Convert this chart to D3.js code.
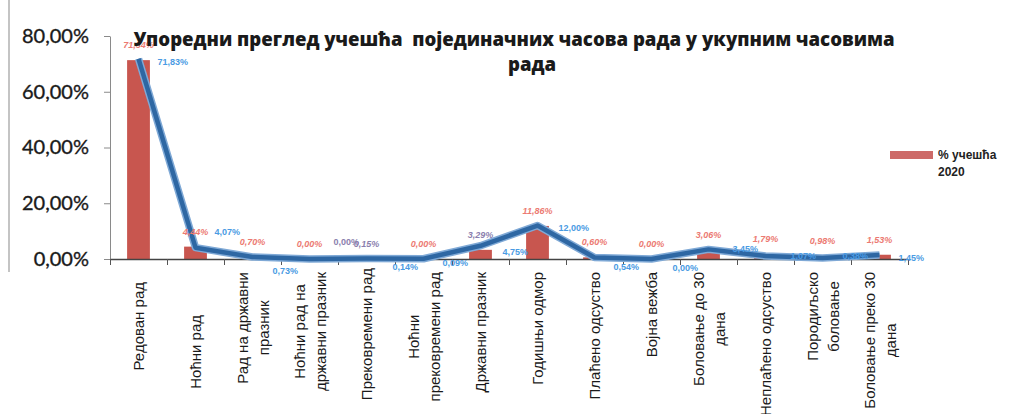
<!DOCTYPE html>
<html><head><meta charset="utf-8">
<script src="https://cdn.jsdelivr.net/npm/d3@7"></script>
<style>body{margin:0;background:#fff} svg{display:block}</style>
</head><body><svg id="c" width="1015" height="414"></svg>
<script>
// ---- data ----
const categories = [
  ["Редован рад"],
  ["Ноћни рад"],
  ["Рад на државни", "празник"],
  ["Ноћни рад на", "државни празник"],
  ["Прековремени рад"],
  ["Ноћни", "прековремени рад"],
  ["Државни празник"],
  ["Годишњи одмор"],
  ["Плаћено одсуство"],
  ["Војна вежба"],
  ["Боловање до 30", "дана"],
  ["Неплаћено одсуство"],
  ["Породиљско", "боловање"],
  ["Боловање преко 30", "дана"]
];
const share2020 = [71.34, 4.44, 0.70, 0.00, 0.15, 0.00, 3.29, 11.86, 0.60, 0.00, 3.06, 1.79, 0.98, 1.53];
const shareLine = [71.83, 4.07, 0.73, 0.00, 0.14, 0.09, 4.75, 12.00, 0.54, 0.00, 3.45, 1.07, 0.38, 1.45];
const yTicks = [0, 20, 40, 60, 80];
const titleLines = ["Упоредни преглед учешћа  појединачних часова рада у укупним часовима", "рада"];
const legendLabel = ["% учешћа", "2020"];

// ---- label placement / styling (not data) ----
const catLabelShift = [10, 43, 0, 0, -4, 0, 0, 0, 0, 0, 0, 0, 0, 0];
const lineLabelDy = [3, -16, 14, -17, 8, 4, 6, 2, 10, 9, 0, 0, -2, 3];
const lineLabelDx = [19, 19, 20, 24, 26, 19, 22, 21, 19, 21, 24, 25, 20, 19];
const barLabelAlt = new Set([4, 6]);
const lineLabelAlt = new Set([3]);

const svg = d3.select("#c");
const fmt = v => v.toFixed(2).replace(".", ",") + "%";

const x = d3.scaleBand().domain(d3.range(categories.length)).range([110, 908]).paddingInner(0.6).paddingOuter(0.3);
const xb = d3.scaleLinear().domain([0, categories.length]).range([110, 908]);
const y = d3.scaleLinear().domain([0, 80]).range([259, 36]);
const cx = i => x(i) + x.bandwidth() / 2;

// left frame line
svg.append("line").attr("x1", 9).attr("x2", 9).attr("y1", 0).attr("y2", 272)
  .attr("stroke", "#b0b0b0").attr("stroke-width", 1.5);

// y axis
const ya = svg.append("g").attr("transform", "translate(110,0)")
  .call(d3.axisLeft(y).tickValues(yTicks).tickSize(6).tickPadding(15).tickFormat(v => fmt(v)).tickSizeOuter(0));
ya.select(".domain").attr("stroke", "#8a8a8a");
ya.selectAll(".tick line").attr("stroke", "#8a8a8a");
ya.selectAll(".tick text").attr("font-family", "Lato, sans-serif").attr("font-size", 20)
  .attr("fill", "#1a1a1a").attr("stroke", "#1a1a1a").attr("stroke-width", 0.35);

// bars
svg.append("g").selectAll("rect").data(share2020).join("rect")
  .attr("x", (d, i) => x(i)).attr("width", x.bandwidth())
  .attr("y", d => y(d)).attr("height", d => y(0) - y(d))
  .attr("fill", "#c8564f");

// x axis
const xa = svg.append("g").attr("transform", "translate(0,259)")
  .call(d3.axisBottom(xb).tickValues(d3.range(0, categories.length + 1)).tickSize(6).tickFormat("").tickSizeOuter(0));
xa.select(".domain").attr("stroke", "#444").attr("stroke-width", 1.5);
xa.selectAll(".tick line").attr("stroke", "#555");

// line
const line = d3.line().x((d, i) => cx(i)).y(d => y(d));
svg.append("path").datum(shareLine).attr("d", line).attr("fill", "none")
  .attr("stroke", "#7fa9d6").attr("stroke-width", 7.5).attr("stroke-linejoin", "round");
svg.append("path").datum(shareLine).attr("d", line).attr("fill", "none")
  .attr("stroke", "#2e67a3").attr("stroke-width", 4.5).attr("stroke-linejoin", "round");

// bar labels
svg.append("g").selectAll("text").data(share2020).join("text")
  .attr("x", (d, i) => cx(i)).attr("y", d => y(d) - 12)
  .attr("text-anchor", "middle")
  .attr("font-family", "'Liberation Sans', Arial, sans-serif").attr("font-size", 9)
  .attr("font-weight", "bold").attr("font-style", "italic")
  .attr("fill", (d, i) => barLabelAlt.has(i) ? "#8b7fae" : "#ec7a72")
  .text(d => fmt(d));

// line labels
svg.append("g").selectAll("text").data(shareLine).join("text")
  .attr("x", (d, i) => cx(i) + lineLabelDx[i]).attr("y", (d, i) => y(d) + lineLabelDy[i] + 3)
  .attr("font-family", "'Liberation Sans', Arial, sans-serif").attr("font-size", 9)
  .attr("font-weight", "bold")
  .attr("fill", (d, i) => lineLabelAlt.has(i) ? "#8b7fae" : "#4a9be3")
  .text(d => fmt(d));

// category labels (rotated)
const cg = svg.append("g");
categories.forEach((lines, i) => {
  const g = cg.append("g");
  const texts = lines.map((t, j) => g.append("text")
    .attr("font-family", "'Liberation Sans', Arial, sans-serif").attr("font-size", 15)
    .attr("fill", "#1a1a1a").attr("text-anchor", "middle").attr("dominant-baseline", "central")
    .attr("x", 0).attr("y", (j - (lines.length - 1) / 2) * 21).text(t));
  const maxLen = d3.max(texts, t => t.node().getComputedTextLength());
  const cy = 272 + catLabelShift[i] + maxLen / 2;
  g.attr("transform", `translate(${cx(i)},${cy}) rotate(-90)`);
});

// title
const tt = svg.append("text").attr("font-family", "'Open Sans', sans-serif").attr("font-weight", "800")
  .attr("fill", "#1a1a1a").attr("text-anchor", "middle").style("white-space", "pre")
  .attr("font-size", 20);
tt.append("tspan").attr("x", 514).attr("y", 46).text(titleLines[0]);
tt.append("tspan").attr("x", 532).attr("y", 71).text(titleLines[1]);
const w = tt.select("tspan").node().getComputedTextLength();
tt.attr("font-size", 20 * 762 / w);

// legend
svg.append("rect").attr("x", 890).attr("y", 151).attr("width", 43).attr("height", 8).attr("fill", "#cd6a68");
svg.append("g").selectAll("text").data(legendLabel).join("text")
  .attr("x", 938).attr("y", (d, i) => 159 + i * 17)
  .attr("font-family", "'Liberation Sans', Arial, sans-serif").attr("font-size", 12).attr("font-weight", "bold")
  .attr("fill", "#222").text(d => d);
</script></body></html>
